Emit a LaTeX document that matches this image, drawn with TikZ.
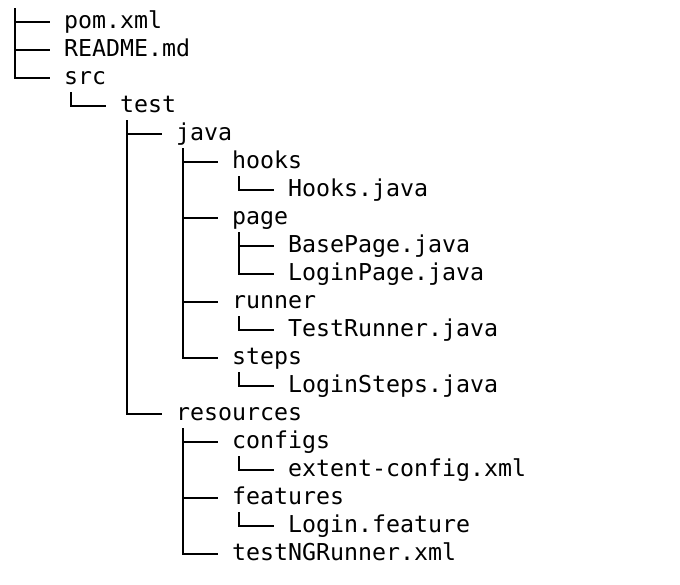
\documentclass[tikz,border=0pt]{standalone}
\usepackage{fontspec}
\newfontfamily\treefont{DejaVu Sans Mono}
\usepackage{tikz}
\usetikzlibrary{positioning,calc}

\begin{document}
\begin{tikzpicture}[x=1pt,y=-1pt,
  item/.style={anchor=west,inner xsep=0pt,inner ysep=3pt,text height=17pt,text depth=5pt,
    font=\treefont\fontsize{23.26pt}{28pt}\selectfont},
  branch/.style={draw,line width=1.5pt}]
\useasboundingbox (0,0) rectangle (680,584);
% one row per entry: name/level/text
\foreach \nm/\lv/\txt [count=\r from 0] in {pom/0/pom.xml, readme/0/README.md, src/0/src,
  test/1/test, java/2/java, hooks/3/hooks, hooksjava/4/Hooks.java, page/3/page,
  basepage/4/BasePage.java, loginpage/4/LoginPage.java, runner/3/runner,
  testrunner/4/TestRunner.java, steps/3/steps, loginsteps/4/LoginSteps.java,
  resources/2/resources, configs/3/configs, extent/4/extent-config.xml,
  features/3/features, loginfeature/4/Login.feature, testng/3/testNGRunner.xml}
  \node[item] (\nm) at ({64+56*\lv},{22+28*\r}) {\txt};
% top level
\coordinate (top) at (15,8);
\foreach \c in {pom,readme,src}
  \draw[branch] (top) |- ([xshift=-14pt]\c.west);
% parent -> child
\foreach \p/\c in {src/test, test/java, java/hooks, hooks/hooksjava, java/page,
  page/basepage, page/loginpage, java/runner, runner/testrunner, java/steps,
  steps/loginsteps, test/resources, resources/configs, configs/extent,
  resources/features, features/loginfeature, resources/testng}
  \draw[branch] ([xshift=7pt]\p.south west) |- ([xshift=-14pt]\c.west);
\end{tikzpicture}
\end{document}
